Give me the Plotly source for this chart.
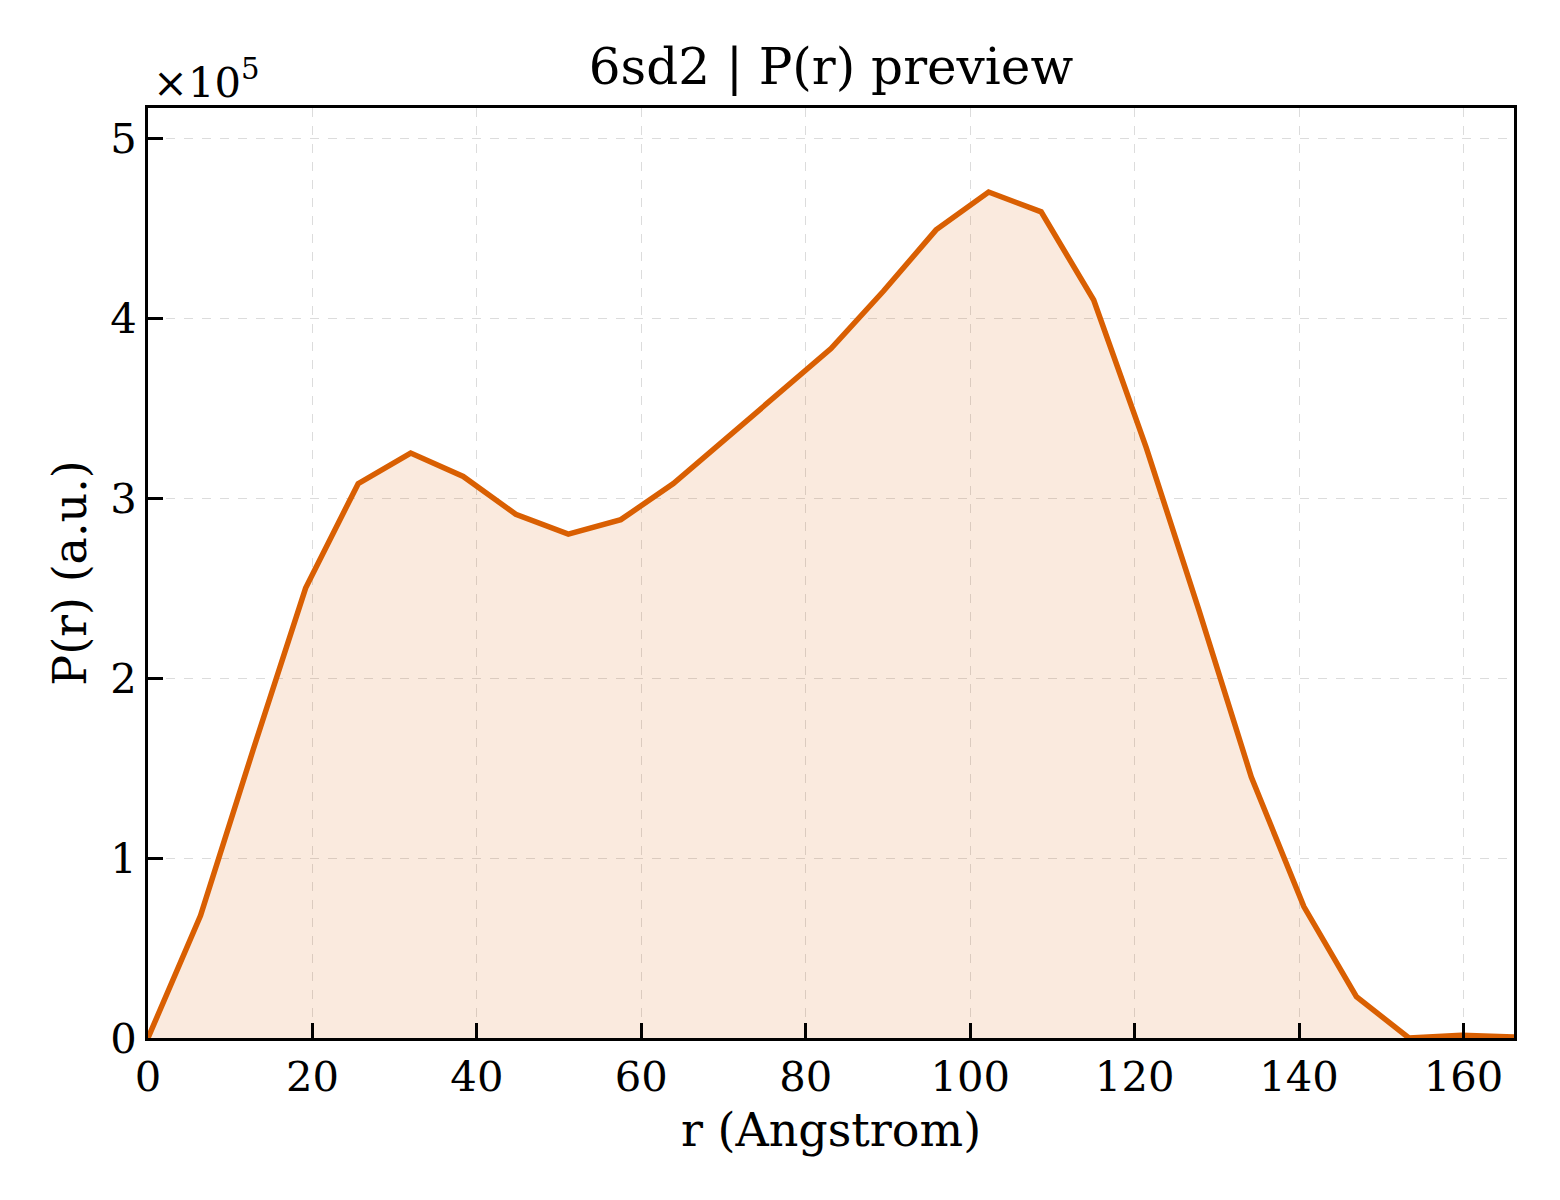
import plotly.graph_objects as go

# P(r) distribution read from the preview
r_vals = [0, 6.39, 12.78, 19.17, 25.56, 31.95, 38.34, 44.73, 51.12, 57.51,
          63.9, 70.29, 76.68, 83.07, 89.46, 95.85, 102.24, 108.63, 115.02,
          121.41, 127.8, 134.19, 140.58, 146.97, 153.36, 159.75, 166.14]
p_vals = [0, 68000, 160000, 250000, 308000, 325000, 312000, 291000, 280000,
          288000, 308000, 333000, 357000, 383000, 415000, 449000, 470000,
          459000, 410000, 328000, 238000, 145000, 73000, 23000, 0, 1500, 500]
y_ticks = [0, 100000, 200000, 300000, 400000, 500000]
y_tick_text = ["0", "1", "2", "3", "4", "5"]
x_ticks = [0, 20, 40, 60, 80, 100, 120, 140, 160]

font_family = "DejaVu Serif"
line_color = "#d95f02"

fig = go.Figure()
fig.add_trace(go.Scatter(
    x=r_vals, y=p_vals,
    mode="lines",
    line=dict(color=line_color, width=5.5),
    fill="tozeroy",
    fillcolor="rgba(217,95,2,0.13)",
    showlegend=False,
))

fig.update_layout(
    width=1560, height=1200,
    margin=dict(l=140, r=54, t=100, b=170),
    paper_bgcolor="white", plot_bgcolor="white",
    font=dict(family=font_family, size=41.7, color="black"),
    title=dict(text="6sd2 | P(r) preview", x=0.5, xanchor="center", xref="paper",
               y=0.951, yref="container", yanchor="middle", font=dict(size=50)),
    annotations=[dict(text="×10<sup>5</sup>", xref="paper", yref="paper",
                      x=0.002, y=1.031, xanchor="left", yanchor="middle",
                      showarrow=False, font=dict(size=41.7))],
)

fig.update_xaxes(
    range=[0, 166.14], tickvals=x_ticks,
    title=dict(text="r (Angstrom)", font=dict(size=46), standoff=14),
    showline=True, linecolor="black", linewidth=3, mirror=True,
    ticks="inside", ticklen=15, tickwidth=3, tickcolor="black",
    showgrid=True, gridcolor="#dcdcdc", griddash="dash", gridwidth=1.3,
    zeroline=False,
)
fig.update_yaxes(
    range=[0, 516700], tickvals=y_ticks, ticktext=y_tick_text,
    title=dict(text="P(r) (a.u.)", font=dict(size=46), standoff=10),
    showline=True, linecolor="black", linewidth=3, mirror=True,
    ticks="inside", ticklen=15, tickwidth=3, tickcolor="black",
    showgrid=True, gridcolor="#dcdcdc", griddash="dash", gridwidth=1.3,
    zeroline=False,
)

fig.write_html("out.html")
